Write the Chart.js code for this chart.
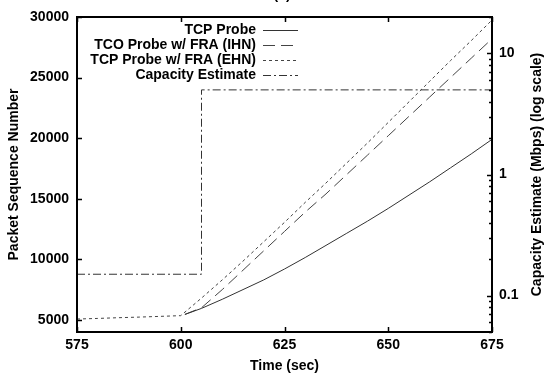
<!DOCTYPE html>
<html>
<head>
<meta charset="utf-8">
<script src="https://cdn.jsdelivr.net/npm/chart.js@4"></script>
<style>
  body { margin: 0; background: #fff; }
  #wrap { width: 549px; height: 376px; }
</style>
</head>
<body>
<div id="wrap"><canvas id="myChart" width="549" height="376"></canvas></div>
<script>
// values
const xTicks = [575, 600, 625, 650, 675];
const yTicks = [5000, 10000, 15000, 20000, 25000, 30000];
const capTicks = [0.1, 1, 10];
const capMinor = [0.05, 0.06, 0.07, 0.08, 0.09, 0.2, 0.3, 0.4, 0.5, 0.6, 0.7, 0.8, 0.9,
                  2, 3, 4, 5, 6, 7, 8, 9, 20];

// TCP Probe (solid)
const tcpTimes = [601, 605, 610, 615, 620, 625, 630, 635, 640, 645, 650, 655, 660, 665, 670, 675];
const tcpSeq = [5450, 5950, 6700, 7500, 8300, 9200, 10150, 11150, 12150, 13150, 14200, 15300, 16400, 17550, 18700, 19900];

// TCO Probe w/ FRA (IHN) (dashed)
const ihnTimes = [601, 605, 610, 615, 620, 625, 630, 635, 640, 645, 650, 655, 660, 665, 670, 675];
const ihnSeq = [5450, 6000, 7500, 9100, 10700, 12300, 13900, 15400, 17000, 18600, 20200, 21800, 23400, 25000, 26600, 28200];

// TCP Probe w/ FRA (EHN) (dotted)
const ehnTimes = [575, 580, 585, 590, 595, 600, 605, 610, 615, 620, 625, 630, 635, 640, 645, 650, 655, 660, 665, 670, 675];
const ehnSeq = [5070, 5120, 5180, 5230, 5290, 5350, 6800, 8300, 9850, 11450, 13050, 14700, 16300, 17950, 19600, 21300, 23000, 24700, 26400, 28050, 29750];

// Capacity Estimate (right axis, Mbps)
const capTimes = [575, 605, 605, 675];
const capValues = [0.15, 0.15, 5, 5];

const toPoints = (xs, ys) => xs.map((x, i) => ({ x: x, y: ys[i] }));

const FONT = "Liberation Sans, Arial, sans-serif";

// Draws border, inward ticks, axis titles and the gnuplot-style legend
const decorPlugin = {
  id: "decor",
  afterDraw(chart) {
    const ctx = chart.ctx;
    const a = chart.chartArea;
    const sx = chart.scales.x, sy = chart.scales.y, s2 = chart.scales.y2;
    ctx.save();

    // ticks
    ctx.strokeStyle = "#000";
    ctx.lineWidth = 1.5;
    ctx.beginPath();
    xTicks.forEach(v => {
      const p = Math.round(sx.getPixelForValue(v)) + 0.5;
      ctx.moveTo(p, a.bottom); ctx.lineTo(p, a.bottom - 5);
      ctx.moveTo(p, a.top); ctx.lineTo(p, a.top + 5);
    });
    yTicks.forEach(v => {
      const p = Math.round(sy.getPixelForValue(v)) + 0.5;
      ctx.moveTo(a.left, p); ctx.lineTo(a.left + 5, p);
    });
    capTicks.forEach(v => {
      const p = Math.round(s2.getPixelForValue(v)) + 0.5;
      ctx.moveTo(a.right, p); ctx.lineTo(a.right - 5, p);
    });
    capMinor.forEach(v => {
      const p = Math.round(s2.getPixelForValue(v)) + 0.5;
      ctx.moveTo(a.right, p); ctx.lineTo(a.right - 3, p);
    });
    ctx.stroke();

    // border
    ctx.lineWidth = 2;
    ctx.strokeRect(a.left, a.top, a.right - a.left, a.bottom - a.top);

    // titles
    ctx.fillStyle = "#000";
    ctx.font = "bold 14px " + FONT;
    ctx.textAlign = "center";
    ctx.textBaseline = "middle";
    ctx.fillText("Time (sec)", (a.left + a.right) / 2, 366);

    ctx.save();
    ctx.translate(14, (a.top + a.bottom) / 2);
    ctx.rotate(-Math.PI / 2);
    ctx.fillText("Packet Sequence Number", 0, 0);
    ctx.restore();

    ctx.save();
    ctx.translate(537, (a.top + a.bottom) / 2);
    ctx.rotate(-Math.PI / 2);
    ctx.fillText("Capacity Estimate (Mbps) (log scale)", 0, 0);
    ctx.restore();

    ctx.textBaseline = "alphabetic";
    ctx.fillText("(a)", 282, -1);

    // legend
    ctx.textAlign = "right";
    ctx.textBaseline = "middle";
    const rowY = [30, 45, 60, 75];
    chart.data.datasets.forEach((ds, i) => {
      const y = rowY[i];
      ctx.fillStyle = "#000";
      ctx.fillText(ds.label, 256, y);
      ctx.strokeStyle = ds.borderColor;
      ctx.lineWidth = 1;
      ctx.setLineDash(ds.borderDash || []);
      ctx.beginPath();
      ctx.moveTo(263, Math.round(y) + 0.5);
      ctx.lineTo(298, Math.round(y) + 0.5);
      ctx.stroke();
      ctx.setLineDash([]);
    });

    ctx.restore();
  },
};

const ctx = document.getElementById("myChart").getContext("2d");

const config = {
  type: "line",
  data: {
    datasets: [
      {
        label: "TCP Probe",
        data: toPoints(tcpTimes, tcpSeq),
        borderColor: "#333",
        borderWidth: 1,
        yAxisID: "y",
      },
      {
        label: "TCO Probe w/ FRA (IHN)",
        data: toPoints(ihnTimes, ihnSeq),
        borderColor: "#444",
        borderWidth: 1,
        borderDash: [12, 6],
        yAxisID: "y",
      },
      {
        label: "TCP Probe w/ FRA (EHN)",
        data: toPoints(ehnTimes, ehnSeq),
        borderColor: "#444",
        borderWidth: 1,
        borderDash: [3, 3],
        yAxisID: "y",
      },
      {
        label: "Capacity Estimate",
        data: toPoints(capTimes, capValues),
        borderColor: "#333",
        borderWidth: 1,
        borderDash: [8, 3, 2, 3],
        yAxisID: "y2",
      },
    ],
  },
  options: {
    responsive: false,
    animation: false,
    layout: { padding: { top: 17, left: 0, right: 0, bottom: 0 } },
    elements: { point: { radius: 0 }, line: { tension: 0 } },
    plugins: {
      legend: { display: false },
      tooltip: { enabled: false },
    },
    scales: {
      x: {
        type: "linear",
        min: 575,
        max: 675,
        grid: { display: false, drawTicks: false },
        border: { display: false },
        afterBuildTicks: s => { s.ticks = xTicks.map(v => ({ value: v })); },
        afterFit: s => { s.height = 44; },
        ticks: {
          padding: 5,
          color: "#000",
          font: { family: FONT, size: 14, weight: "bold" },
          maxRotation: 0,
        },
      },
      y: {
        type: "linear",
        position: "left",
        min: 4000,
        max: 30000,
        grid: { display: false, drawTicks: false },
        border: { display: false },
        afterBuildTicks: s => { s.ticks = yTicks.map(v => ({ value: v })); },
        afterFit: s => { s.width = 77; },
        ticks: {
          padding: 8,
          color: "#000",
          font: { family: FONT, size: 14, weight: "bold" },
          callback: v => String(v),
        },
      },
      y2: {
        type: "logarithmic",
        position: "right",
        min: 0.05,
        max: 20,
        grid: { display: false, drawTicks: false },
        border: { display: false },
        afterBuildTicks: s => { s.ticks = capTicks.map(v => ({ value: v })); },
        afterFit: s => { s.width = 57; },
        ticks: {
          padding: 7,
          color: "#000",
          font: { family: FONT, size: 14, weight: "bold" },
          callback: v => String(v),
        },
      },
    },
  },
  plugins: [decorPlugin],
};

const myChart = new Chart(ctx, config);
</script>
</body>
</html>
